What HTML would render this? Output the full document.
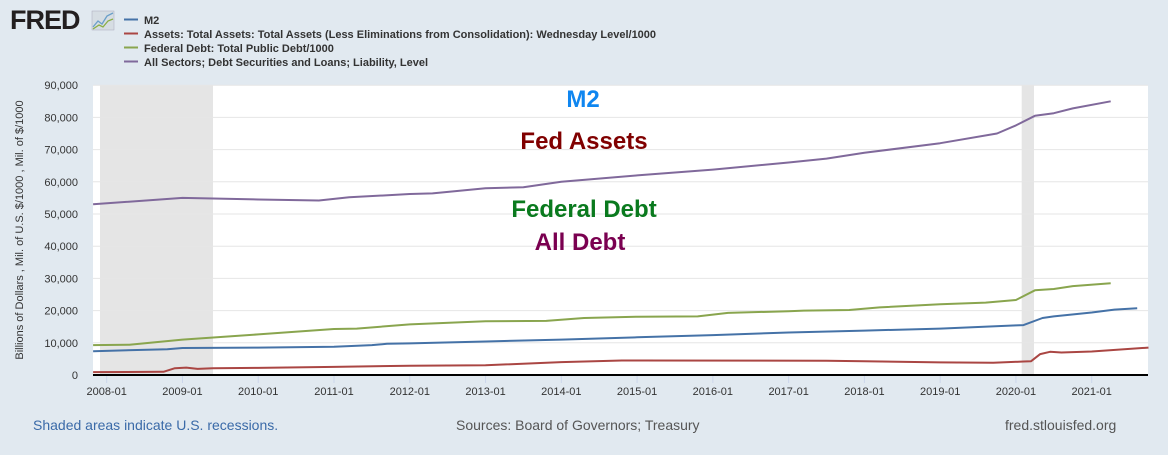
<!DOCTYPE html>
<html><head><meta charset="utf-8"><style>
body{margin:0;background:#e1e9f0;width:1168px;height:450px;overflow:hidden;font-family:"Liberation Sans",sans-serif}
</style></head><body>
<svg id="s" width="1168" height="450" xmlns="http://www.w3.org/2000/svg" font-family="Liberation Sans, sans-serif">
<rect width="1168" height="450" fill="#e1e9f0"/>
<text x="10" y="29" font-size="27" font-weight="bold" fill="#231f20" letter-spacing="-1">FRED</text>
<rect x="92" y="11" width="22" height="19" fill="#d6dde3" stroke="#aab" stroke-width="0.5"/>
<polyline points="93,27 98,21 102,24 107,16 113,13" fill="none" stroke="#6a9fc9" stroke-width="1.3"/>
<polyline points="93,29 99,25 103,27 108,21 113,19" fill="none" stroke="#8aae45" stroke-width="1.3"/>
<g font-size="11" font-weight="bold" fill="#333">
<line x1="124" y1="19.5" x2="138" y2="19.5" stroke="#4572a7" stroke-width="2"/><text x="144" y="24">M2</text>
<line x1="124" y1="33.5" x2="138" y2="33.5" stroke="#aa4643" stroke-width="2"/><text x="144" y="38">Assets: Total Assets: Total Assets (Less Eliminations from Consolidation): Wednesday Level/1000</text>
<line x1="124" y1="47.5" x2="138" y2="47.5" stroke="#89a54e" stroke-width="2"/><text x="144" y="52">Federal Debt: Total Public Debt/1000</text>
<line x1="124" y1="61.5" x2="138" y2="61.5" stroke="#80699b" stroke-width="2"/><text x="144" y="66">All Sectors; Debt Securities and Loans; Liability, Level</text>
</g>
<rect x="93" y="85" width="1055" height="290" fill="#fff"/>
<rect x="100" y="85" width="113" height="290" fill="#e5e5e5"/>
<rect x="1021.7" y="85" width="12.3" height="290" fill="#e5e5e5"/>
<g id="grid"></g>
<g id="lines"></g>
<line x1="93" y1="375" x2="1148" y2="375" stroke="#000" stroke-width="2"/>
<text transform="translate(23,230) rotate(-90)" text-anchor="middle" font-size="11" fill="#333">Billions of Dollars , Mil. of U.S. $/1000 , Mil. of $/1000</text>
<g font-size="24" font-weight="bold" text-anchor="middle">
<text x="583" y="107" fill="#0f86f0">M2</text>
<text x="584" y="149" fill="#800000">Fed Assets</text>
<text x="584" y="217" fill="#0a7a1e">Federal Debt</text>
<text x="580" y="250" fill="#7a0050">All Debt</text>
</g>
<g font-size="14">
<text x="33" y="430" fill="#3a6aa8">Shaded areas indicate U.S. recessions.</text>
<text x="456" y="430" fill="#555">Sources: Board of Governors; Treasury</text>
<text x="1005" y="430" fill="#555">fred.stlouisfed.org</text>
</g>
</svg>
<script>
const NS="http://www.w3.org/2000/svg";
const X=t=>106.7+(t-2008)*75.77, Y=v=>375-v*0.00322;
const g=document.getElementById('grid'),L=document.getElementById('lines');
function el(p,tag,a,txt){const e=document.createElementNS(NS,tag);for(const k in a)e.setAttribute(k,a[k]);if(txt)e.textContent=txt;p.appendChild(e);return e;}
for(let v=10000;v<=90000;v+=10000){el(g,'line',{x1:93,x2:1148,y1:Y(v),y2:Y(v),stroke:'#e6e6e6','stroke-width':1});}
for(let v=0;v<=90000;v+=10000){el(g,'text',{x:78,y:Y(v)+4,'text-anchor':'end','font-size':11,fill:'#333'},v.toLocaleString('en-US'));}
for(let y=2008;y<=2021;y++){const x=X(y);el(g,'line',{x1:x,x2:x,y1:376,y2:383,stroke:'#ccd6eb'});el(g,'text',{x:x,y:395,'text-anchor':'middle','font-size':11,fill:'#333'},y+'-01');}
const S=[
['#80699b',[[2007.82,53000],[2009,55000],[2010,54500],[2010.8,54200],[2011.2,55200],[2012,56200],[2012.3,56400],[2013,58000],[2013.5,58300],[2014,60000],[2015,62000],[2016,63800],[2017,66000],[2017.5,67200],[2018,69000],[2019,72000],[2019.75,75000],[2020,77500],[2020.25,80500],[2020.5,81300],[2020.75,82800],[2021.25,85000]]],
['#89a54e',[[2007.82,9300],[2008.3,9400],[2009,11000],[2010,12600],[2011,14300],[2011.3,14400],[2012,15700],[2013,16700],[2013.8,16800],[2014.3,17700],[2015,18100],[2015.8,18200],[2016.2,19300],[2017,19800],[2017.2,20000],[2017.8,20200],[2018.2,21000],[2019,22000],[2019.6,22500],[2020,23300],[2020.25,26300],[2020.5,26700],[2020.75,27600],[2021.25,28500]]],
['#4572a7',[[2007.82,7400],[2008.8,8000],[2009,8400],[2010,8500],[2011,8800],[2011.5,9300],[2011.7,9700],[2012,9800],[2013,10400],[2014,11000],[2015,11700],[2016,12400],[2017,13200],[2018,13800],[2019,14400],[2020,15400],[2020.1,15500],[2020.35,17700],[2020.5,18200],[2021,19400],[2021.3,20300],[2021.6,20700]]],
['#aa4643',[[2007.82,900],[2008.75,1000],[2008.9,2100],[2009.05,2300],[2009.2,1900],[2009.4,2100],[2010,2200],[2011,2500],[2012,2900],[2013,3000],[2014,4000],[2014.8,4500],[2017.5,4450],[2018,4300],[2019,3900],[2019.7,3800],[2020.1,4200],[2020.2,4300],[2020.32,6500],[2020.45,7200],[2020.6,7000],[2021,7300],[2021.75,8500]]]];
S.forEach(([c,d])=>el(L,'polyline',{points:d.map(p=>X(p[0]).toFixed(1)+','+Y(p[1]).toFixed(1)).join(' '),fill:'none',stroke:c,'stroke-width':2,'stroke-linejoin':'round'}));
</script>
</body></html>
